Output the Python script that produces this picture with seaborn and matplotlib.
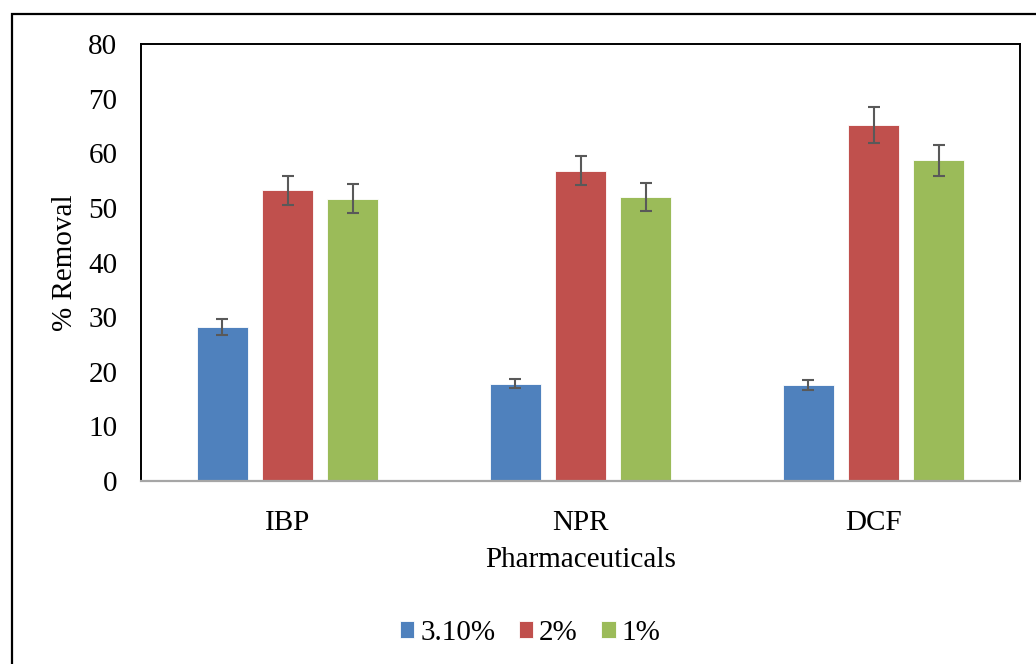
import numpy as np
import pandas as pd
import matplotlib
matplotlib.use("Agg")
import matplotlib.pyplot as plt
from matplotlib.patches import Rectangle
import seaborn as sns

# ── Дані ─────────────────────────────────────────────────────────
drugs   = ["IBP", "NPR", "DCF"]
levels  = ["3.10%", "2%", "1%"]
removal = {"3.10%": [28.2, 17.8, 17.5],
           "2%":    [53.2, 56.8, 65.1],
           "1%":    [51.7, 52.0, 58.7]}
err     = {"3.10%": [1.45, 0.85, 0.9],
           "2%":    [2.7, 2.7, 3.3],
           "1%":    [2.6, 2.6, 2.9]}
colors  = ["#4F81BD", "#C0504D", "#9BBB59"]

df = pd.DataFrame([(d, lv, removal[lv][i]) for lv in levels
                   for i, d in enumerate(drugs)],
                  columns=["drug", "level", "removal"])

sns.set_style("white")
plt.rcParams["font.family"] = ["Liberation Serif", "DejaVu Serif"]
plt.rcParams["text.color"] = "black"
plt.rcParams["axes.labelcolor"] = "black"
plt.rcParams["xtick.color"] = "black"
plt.rcParams["ytick.color"] = "black"

fig = plt.figure(figsize=(10.36, 6.64), dpi=100)
ax = fig.add_axes([0.1361, 0.2756, 0.8485, 0.6581])

sns.barplot(data=df, x="drug", y="removal", hue="level", order=drugs,
            hue_order=levels, palette=colors, errorbar=None,
            width=0.666, gap=0.22, saturation=1, ax=ax,
            edgecolor="white", linewidth=0.6)

# планки похибок по центрах стовпців
for lv, cont in zip(levels, ax.containers):
    for j, bar in enumerate(cont):
        ax.errorbar(bar.get_x() + bar.get_width() / 2, bar.get_height(),
                    yerr=err[lv][j], fmt="none", ecolor="#595959",
                    elinewidth=1.5, capsize=4.5, capthick=1.5, zorder=5)

ax.set_ylim(0, 80)
ax.set_yticks(range(0, 81, 10))
ax.set_xlim(-0.5, 2.5)
ax.tick_params(axis="y", length=0, labelsize=21, pad=17, colors="black")
ax.tick_params(axis="x", length=0, labelsize=21, pad=21, colors="black")
ax.set_ylabel("% Removal", fontsize=21, color="black")
ax.set_xlabel("Pharmaceuticals", fontsize=21, color="black")
ax.yaxis.set_label_coords(-0.072, 0.5)
ax.xaxis.set_label_coords(0.5, -0.151)

for side in ["left", "top", "right"]:
    ax.spines[side].set_color("black")
    ax.spines[side].set_linewidth(1.4)
ax.spines["bottom"].set_color("#A6A6A6")
ax.spines["bottom"].set_linewidth(1.6)

leg = ax.legend(loc="center", bbox_to_anchor=(0.5116, 0.0467),
                bbox_transform=fig.transFigure, ncol=3, frameon=False,
                fontsize=21, handlelength=0.5, handleheight=0.5,
                handletextpad=0.2, columnspacing=0.8)
for t in leg.get_texts():
    t.set_color("black")

# зовнішня рамка (видно лише ліву та верхню сторони)
fig.add_artist(Rectangle((0.0116, -0.2), 1.5, 1.179, transform=fig.transFigure,
                         fill=False, edgecolor="black", linewidth=1.6,
                         clip_on=False))

fig.savefig("out.png", dpi=100)
